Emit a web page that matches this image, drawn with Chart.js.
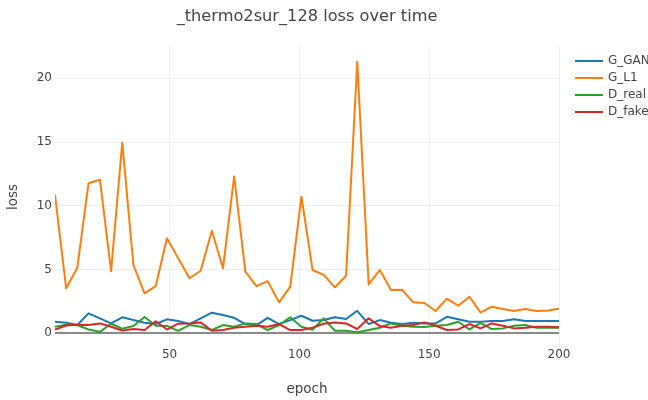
<!DOCTYPE html>
<html>
<head>
<meta charset="utf-8">
<script src="https://cdn.jsdelivr.net/npm/chart.js@4.4.1/dist/chart.umd.min.js"></script>
<style>
  html, body { margin: 0; padding: 0; background: #fff; }
</style>
</head>
<body>
<canvas id="chart" width="648" height="400"></canvas>
<script>
// values
const epochs = [5.9, 10.2, 14.5, 18.8, 23.2, 27.5, 31.8, 36.1, 40.4, 44.7,
    49.0, 53.3, 57.7, 62.0, 66.3, 70.6, 74.9, 79.2, 83.5, 87.8,
    92.2, 96.5, 100.8, 105.1, 109.4, 113.7, 118.0, 122.3, 126.7, 131.0,
    135.3, 139.6, 143.9, 148.2, 152.5, 156.8, 161.2, 165.5, 169.8, 174.1,
    178.4, 182.7, 187.0, 191.3, 195.7, 200.0];

const gGan = [0.91, 0.83, 0.65, 1.57, 1.18, 0.78, 1.26, 1.04, 0.83, 0.73,
    1.10, 0.97, 0.73, 1.18, 1.62, 1.44, 1.22, 0.73, 0.65, 1.22,
    0.73, 1.04, 1.38, 0.99, 1.04, 1.26, 1.12, 1.77, 0.73, 1.04,
    0.83, 0.73, 0.83, 0.78, 0.78, 1.30, 1.10, 0.91, 0.91, 0.97,
    0.97, 1.10, 0.97, 0.97, 0.97, 0.97];

const gL1 = [10.86, 3.53, 5.15, 11.77, 12.05, 4.87, 14.96, 5.36, 3.14, 3.71,
    7.46, 5.90, 4.32, 4.91, 8.05, 5.10, 12.30, 4.84, 3.71, 4.10,
    2.43, 3.66, 10.72, 4.97, 4.58, 3.61, 4.52, 21.30, 3.84, 4.97,
    3.40, 3.42, 2.43, 2.38, 1.75, 2.72, 2.17, 2.87, 1.62, 2.09,
    1.91, 1.75, 1.91, 1.75, 1.80, 1.93];

const dReal = [0.52, 0.68, 0.65, 0.30, 0.12, 0.75, 0.37, 0.58, 1.28, 0.60,
    0.58, 0.20, 0.65, 0.52, 0.26, 0.65, 0.52, 0.78, 0.73, 0.26,
    0.65, 1.26, 0.52, 0.28, 1.18, 0.20, 0.20, 0.08, 0.26, 0.44,
    0.78, 0.60, 0.52, 0.50, 0.60, 0.65, 0.91, 0.31, 0.83, 0.34,
    0.39, 0.60, 0.65, 0.44, 0.44, 0.44];

const dFake = [0.30, 0.62, 0.68, 0.65, 0.78, 0.52, 0.22, 0.34, 0.26, 0.95,
    0.30, 0.76, 0.78, 0.86, 0.20, 0.26, 0.44, 0.52, 0.60, 0.52,
    0.73, 0.26, 0.26, 0.45, 0.75, 0.86, 0.78, 0.34, 1.18, 0.57,
    0.44, 0.60, 0.65, 0.86, 0.60, 0.26, 0.31, 0.73, 0.39, 0.78,
    0.60, 0.39, 0.44, 0.52, 0.52, 0.47];

const seriesNames = ['G_GAN', 'G_L1', 'D_real', 'D_fake'];
const seriesValues = [gGan, gL1, dReal, dFake];
const seriesColors = ['#1f77b4', '#ff7f0e', '#2ca02c', '#d62728'];

const xTicks = [50, 100, 150, 200];
const yTicks = [0, 5, 10, 15, 20];

const FONT = "'DejaVu Sans', Verdana, sans-serif";
const TEXT = '#444';

// plotly-like legend sitting to the right of the plot, clipped by the canvas edge
const sideLegend = {
    id: 'sideLegend',
    afterDraw(chart) {
        const ctx = chart.ctx;
        ctx.save();
        ctx.font = '12px ' + FONT;
        ctx.textBaseline = 'middle';
        ctx.lineWidth = 2;
        seriesNames.forEach((name, i) => {
            const y = 61 + i * 17;
            ctx.strokeStyle = seriesColors[i];
            ctx.beginPath();
            ctx.moveTo(575, y);
            ctx.lineTo(603, y);
            ctx.stroke();
            ctx.fillStyle = TEXT;
            ctx.fillText(name, 608, y);
        });
        ctx.restore();
    }
};

const datasets = seriesNames.map((name, i) => ({
    label: name,
    data: epochs.map((e, j) => ({x: e, y: seriesValues[i][j]})),
    borderColor: seriesColors[i],
    backgroundColor: seriesColors[i],
    borderWidth: 2,
    borderJoinStyle: 'round',
    pointRadius: 0,
    tension: 0,
    fill: false,
    order: seriesNames.length - i,
}));

new Chart(document.getElementById('chart'), {
    type: 'line',
    data: {datasets},
    plugins: [sideLegend],
    options: {
        responsive: false,
        animation: false,
        layout: {padding: {left: 0, right: 89, top: 0, bottom: 0}},
        plugins: {
            legend: {display: false},
            tooltip: {enabled: false},
            title: {
                display: true,
                text: '_thermo2sur_128 loss over time',
                fullSize: false,
                color: TEXT,
                font: {family: FONT, size: 16.2, weight: 'normal'},
                padding: {top: 7, bottom: 20.6},
            },
        },
        scales: {
            x: {
                type: 'linear',
                min: epochs[0],
                max: 200,
                afterBuildTicks: (axis) => { axis.ticks = xTicks.map(v => ({value: v})); },
                afterFit: (axis) => { axis.height = 53; },
                border: {display: false},
                grid: {color: '#eee', drawTicks: false},
                ticks: {color: TEXT, font: {family: FONT, size: 12}, padding: 1, maxRotation: 0},
                title: {
                    display: true,
                    text: 'epoch',
                    color: TEXT,
                    font: {family: FONT, size: 13.5},
                    padding: {top: 0, bottom: 2.5},
                },
            },
            y: {
                type: 'linear',
                min: -1.07,
                max: 22.45,
                afterBuildTicks: (axis) => { axis.ticks = yTicks.map(v => ({value: v})); },
                afterFit: (axis) => { axis.width = 55; },
                border: {display: false},
                grid: {
                    drawTicks: false,
                    color: (c) => c.tick && c.tick.value === 0 ? '#8a8a8a' : '#eee',
                    lineWidth: (c) => c.tick && c.tick.value === 0 ? 2 : 1,
                },
                ticks: {color: TEXT, font: {family: FONT, size: 12}, padding: 3},
                title: {
                    display: true,
                    text: 'loss',
                    color: TEXT,
                    font: {family: FONT, size: 13.5},
                    padding: {top: 5, bottom: 0},
                },
            },
        },
    },
});
</script>
</body>
</html>
